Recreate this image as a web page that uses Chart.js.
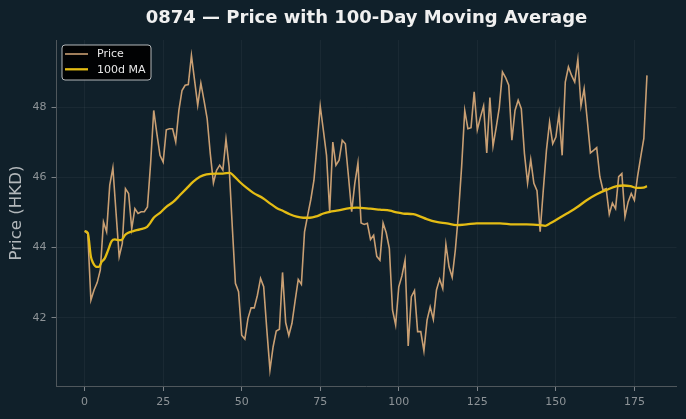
<!DOCTYPE html>
<html><head><meta charset="utf-8">
<script src="https://cdn.jsdelivr.net/npm/chart.js@4"></script>
<style>html,body{margin:0;padding:0;background:#10202a;overflow:hidden}#wrap{width:686px;height:419px;position:relative}</style>
</head><body><div id="wrap"><canvas id="c" width="686" height="419"></canvas></div>
<script>
const chartTitle = "0874 \u2014 Price with 100-Day Moving Average";
const yTitle = "Price (HKD)";
const seriesNames = ["Price", "100d MA"];
const price = [
44.47,44.40,42.50,42.79,43.00,43.36,44.73,44.45,45.78,46.27,
45.00,43.74,44.12,45.68,45.54,44.54,45.11,44.97,45.02,45.02,
45.16,46.39,47.91,47.25,46.63,46.44,47.36,47.39,47.39,47.01,
47.91,48.48,48.63,48.65,49.48,48.77,48.06,48.69,48.20,47.68,
46.68,45.84,46.20,46.35,46.21,47.09,46.30,44.60,42.98,42.74,
41.50,41.39,41.98,42.28,42.28,42.64,43.12,42.88,41.65,40.51,
41.17,41.62,41.67,43.29,41.86,41.49,41.84,42.48,43.09,42.95,
44.45,44.92,45.37,45.92,46.96,48.03,47.34,46.63,45.02,47.01,
46.35,46.49,47.06,46.96,46.02,45.02,45.83,46.41,44.70,44.66,
44.69,44.23,44.35,43.75,43.64,44.70,44.42,43.97,42.22,41.79,
42.88,43.19,43.64,41.19,42.60,42.77,41.60,41.60,41.05,41.93,
42.31,41.95,42.79,43.10,42.83,44.09,43.45,43.15,43.93,44.97,
46.30,47.91,47.39,47.42,48.44,47.36,47.72,48.04,46.70,48.28,
46.89,47.42,48.00,49.01,48.85,48.63,47.06,47.91,48.20,47.96,
46.68,45.84,46.51,45.83,45.62,44.45,45.64,46.77,47.58,46.96,
47.15,47.82,46.63,48.72,49.15,48.91,48.72,49.37,48.04,48.53,
47.63,46.70,46.77,46.85,46.02,45.64,45.68,44.95,45.27,45.11,
46.02,46.11,44.88,45.30,45.54,45.35,46.02,46.58,47.11,48.91
];
const days = price.map((_, i) => i);
const maDays = [0,1,2,2.7,3.8,4.6,5.4,6.4,7.5,8.6,9.6,11,11.7,12.8,13.9,15.5,17.6,19.9,20.8,22,24,26,28.2,30.3,32.4,34.5,36.7,38.8,42,44,46.2,47.3,49.4,51.6,53.7,56.9,59,61.1,63.2,65.3,67.5,69.6,71.7,73.8,76,78.1,80.2,83.4,86.6,90.9,94,97.2,99.3,101.4,104.6,106.7,108.9,112,115.3,118.4,121.6,124.8,128,132.2,136.5,140.7,145,146.6,148.2,150.3,153.5,156.6,159.8,163,166.3,169.4,171.5,173.7,175.8,177.9,179];
const maValues = [44.47,44.42,43.74,43.56,43.45,43.45,43.59,43.69,43.93,44.18,44.23,44.21,44.21,44.35,44.42,44.47,44.52,44.59,44.69,44.85,44.99,45.16,45.30,45.49,45.68,45.87,46.02,46.09,46.11,46.11,46.13,46.06,45.87,45.70,45.56,45.40,45.26,45.13,45.04,44.95,44.88,44.85,44.85,44.89,44.97,45.02,45.05,45.11,45.14,45.11,45.08,45.05,45.00,44.97,44.95,44.89,44.81,44.73,44.69,44.64,44.66,44.69,44.69,44.69,44.66,44.66,44.64,44.62,44.69,44.80,44.97,45.14,45.35,45.52,45.65,45.75,45.77,45.75,45.70,45.71,45.75];
const xTicks = [0,25,50,75,100,125,150,175];
const yTicks = [42,44,46,48];

const FONT = "'DejaVu Sans', 'Liberation Sans', sans-serif";
const BG = '#10202a';
const PRICE_COLOR = '#c99f73';
const MA_COLOR = '#e4bc14';

const bgPlugin = {
  id: 'bg',
  beforeDraw(chart) {
    const ctx = chart.ctx;
    ctx.save();
    ctx.fillStyle = BG;
    ctx.fillRect(0, 0, chart.width, chart.height);
    ctx.restore();
  }
};

const legendPlugin = {
  id: 'boxLegend',
  afterDraw(chart) {
    const ctx = chart.ctx;
    const a = chart.chartArea;
    const x = a.left + 5.5, y = a.top + 5, w = 89, h = 35, r = 3;
    ctx.save();
    ctx.beginPath();
    ctx.moveTo(x + r, y);
    ctx.lineTo(x + w - r, y); ctx.quadraticCurveTo(x + w, y, x + w, y + r);
    ctx.lineTo(x + w, y + h - r); ctx.quadraticCurveTo(x + w, y + h, x + w - r, y + h);
    ctx.lineTo(x + r, y + h); ctx.quadraticCurveTo(x, y + h, x, y + h - r);
    ctx.lineTo(x, y + r); ctx.quadraticCurveTo(x, y, x + r, y);
    ctx.closePath();
    ctx.fillStyle = 'rgba(0,0,0,0.92)';
    ctx.fill();
    ctx.strokeStyle = '#b3b7ba';
    ctx.lineWidth = 1;
    ctx.stroke();
    chart.data.datasets.forEach((ds, i) => {
      const ly = y + 9 + i * 15.3;
      ctx.beginPath();
      ctx.moveTo(x + 3, ly);
      ctx.lineTo(x + 26, ly);
      ctx.strokeStyle = ds.borderColor;
      ctx.lineWidth = ds.borderWidth;
      ctx.stroke();
      ctx.fillStyle = '#e8e8e8';
      ctx.font = '11px ' + FONT;
      ctx.textBaseline = 'middle';
      ctx.textAlign = 'left';
      ctx.fillText(ds.label, x + 35, ly + 0.5);
    });
    ctx.restore();
  }
};

new Chart(document.getElementById('c'), {
  type: 'line',
  data: {
    datasets: [
      {
        label: seriesNames[0],
        data: days.map((d, i) => ({x: d, y: price[i]})),
        borderColor: PRICE_COLOR,
        borderWidth: 1.6,
        pointRadius: 0,
        tension: 0,
        order: 1
      },
      {
        label: seriesNames[1],
        data: maDays.map((d, i) => ({x: d, y: maValues[i]})),
        borderColor: MA_COLOR,
        borderWidth: 2.3,
        pointRadius: 0,
        tension: 0.3,
        cubicInterpolationMode: 'monotone',
        order: 0
      }
    ]
  },
  options: {
    responsive: false,
    devicePixelRatio: 1,
    animation: false,
    layout: {padding: {left: 0, right: 9.5, top: 0, bottom: 0}},
    plugins: {
      legend: {display: false},
      tooltip: {enabled: false},
      title: {
        display: true,
        text: chartTitle,
        color: '#f0f0f0',
        fullSize: false,
        font: {family: FONT, size: 18, weight: 'bold'},
        padding: {top: 8, bottom: 10.4}
      }
    },
    scales: {
      x: {
        type: 'linear',
        min: -8.95,
        max: 188.4,
        afterBuildTicks: s => { s.ticks = xTicks.map(v => ({value: v})); },
        afterFit: s => { s.height = 33; },
        ticks: {color: '#8d9397', font: {family: FONT, size: 11}, padding: 5, maxRotation: 0},
        grid: {color: 'rgba(255,255,255,0.045)', tickColor: '#7d8388', tickLength: 5},
        border: {color: '#4f575c', width: 1}
      },
      y: {
        type: 'linear',
        min: 40.05,
        max: 49.92,
        afterBuildTicks: s => { s.ticks = yTicks.map(v => ({value: v})); },
        afterFit: s => { s.width = 56.5; },
        ticks: {color: '#8d9397', font: {family: FONT, size: 11}, padding: 5},
        grid: {color: 'rgba(255,255,255,0.045)', tickColor: '#7d8388', tickLength: 5},
        border: {color: '#4f575c', width: 1},
        title: {display: true, text: yTitle, color: '#b3b8bb', font: {family: FONT, size: 16.6}, padding: {top: 7, bottom: 0}}
      }
    }
  },
  plugins: [bgPlugin, legendPlugin]
});
</script>
</body></html>
